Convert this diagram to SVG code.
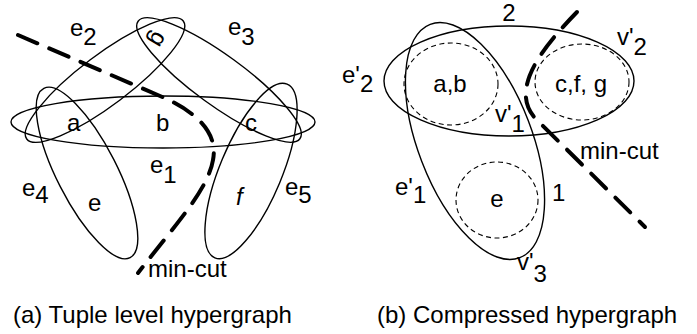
<svg xmlns="http://www.w3.org/2000/svg" width="697" height="334" viewBox="0 0 697 334">
<style>
text{font-family:"Liberation Sans",Arial,sans-serif;font-size:24px;fill:#000}
.edge{fill:none;stroke:#000;stroke-width:1.4}
.node{fill:none;stroke:#000;stroke-width:1.1;stroke-dasharray:5 3.5}
.cut{fill:none;stroke:#000;stroke-width:4;stroke-dasharray:21 13;stroke-linecap:round}
</style>
<rect width="697" height="334" fill="#fff"/>
<!-- Left: tuple level hypergraph -->
<g id="e1"><ellipse class="edge" cx="163" cy="122" rx="152" ry="26"/><text x="150" y="173">e<tspan dy="10">1</tspan></text></g>
<g id="e2"><ellipse class="edge" cx="105" cy="80" rx="98" ry="25" transform="rotate(-37 105 80)"/><text x="70" y="36">e<tspan dy="9">2</tspan></text></g>
<g id="e3"><ellipse class="edge" cx="219" cy="80" rx="100" ry="25" transform="rotate(36 219 80)"/><text x="228" y="35">e<tspan dy="10">3</tspan></text></g>
<g id="e4"><ellipse class="edge" cx="87" cy="173" rx="95" ry="30" transform="rotate(63 87 173)"/><text x="22" y="196">e<tspan dy="7">4</tspan></text></g>
<g id="e5"><ellipse class="edge" cx="251" cy="171" rx="94" ry="31" transform="rotate(112.6 251 171)"/><text x="285" y="195">e<tspan dy="8">5</tspan></text></g>
<g id="a"><text x="67" y="131">a</text></g>
<g id="b"><text x="156" y="131">b</text></g>
<g id="c"><text x="245" y="131">c</text></g>
<g id="g"><text x="157" y="39" text-anchor="middle" dominant-baseline="middle" transform="rotate(120 157 39)">g</text></g>
<g id="e"><text x="88" y="211">e</text></g>
<g id="f"><text x="236" y="205" font-style="italic">f</text></g>
<g id="cut-a"><path class="cut" d="M18,35 L160,96 C200,113 218,135 213,160 C208,190 175,225 138,273"/><text x="148" y="277">min-cut</text></g>
<!-- Right: compressed hypergraph -->
<g id="v1"><ellipse class="node" cx="451" cy="84" rx="47" ry="41"/><text x="450" y="92" text-anchor="middle">a,b</text></g>
<g id="v2"><ellipse class="node" cx="582" cy="82" rx="47" ry="38"/><text x="581" y="92" text-anchor="middle">c,f, g</text></g>
<g id="v3"><ellipse class="node" cx="497" cy="200" rx="41" ry="38"/><text x="497" y="207" text-anchor="middle">e</text></g>
<g id="ep2"><ellipse class="edge" cx="509" cy="81" rx="125" ry="55"/><text x="342" y="83">e'<tspan dy="9">2</tspan></text><text x="509" y="20.5" text-anchor="middle">2</text></g>
<g id="ep1"><ellipse class="edge" cx="475" cy="141" rx="125" ry="57" transform="rotate(69 475 141)"/><text x="395" y="195">e'<tspan dy="8">1</tspan></text><text x="552" y="201">1</text></g>
<g id="labels-v"><text x="495" y="122">v'<tspan dy="10">1</tspan></text><text x="617" y="45">v'<tspan dy="10">2</tspan></text><text x="517" y="270">v'<tspan dy="12">3</tspan></text></g>
<g id="cut-b"><path class="cut" d="M577,12 C540,50 510,90 535,118 L645,227"/><text x="580" y="159">min-cut</text></g>
<g id="captions"><text x="13" y="323">(a) Tuple level hypergraph</text><text x="377" y="323">(b) Compressed hypergraph</text></g>
</svg>
